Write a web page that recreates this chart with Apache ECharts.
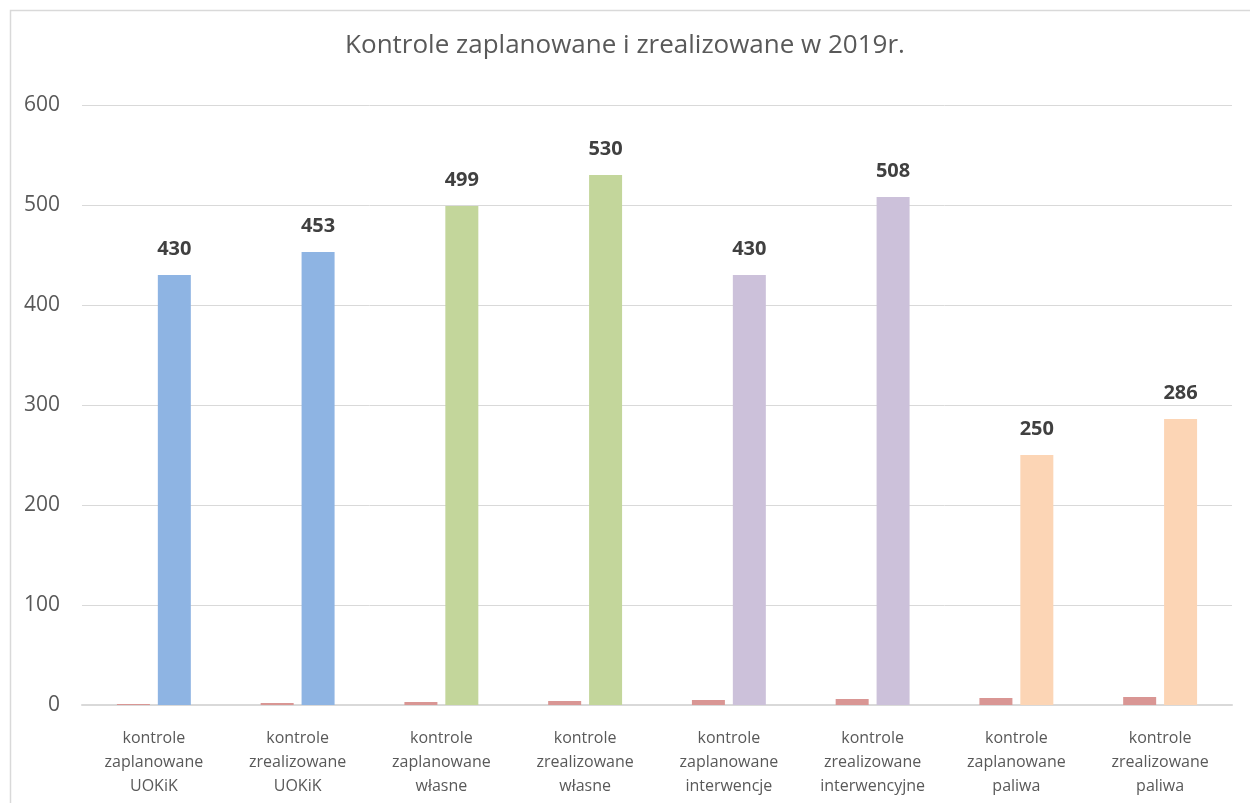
<!DOCTYPE html>
<html>
<head>
<meta charset="utf-8">
<script src="https://cdn.jsdelivr.net/npm/echarts@6/dist/echarts.min.js"></script>
<style>
html, body { margin: 0; padding: 0; background: #fff; }
#chart { width: 1250px; height: 803px; }
</style>
</head>
<body>
<div id="chart"></div>
<script>
// kategorie i wartosci
var categories = [
    'kontrole\nzaplanowane\nUOKiK',
    'kontrole\nzrealizowane\nUOKiK',
    'kontrole\nzaplanowane\nwłasne',
    'kontrole\nzrealizowane\nwłasne',
    'kontrole\nzaplanowane\ninterwencje',
    'kontrole\nzrealizowane\ninterwencyjne',
    'kontrole\nzaplanowane\npaliwa',
    'kontrole\nzrealizowane\npaliwa'
];
var indexValues = [1, 2, 3, 4, 5, 6, 7, 8];
var countValues = [430, 453, 499, 530, 430, 508, 250, 286];
var barColors = ['#8EB4E3', '#8EB4E3', '#C3D69B', '#C3D69B', '#CCC1DA', '#CCC1DA', '#FCD5B5', '#FCD5B5'];
var yTicks = [0, 100, 200, 300, 400, 500, 600];

var chart = echarts.init(document.getElementById('chart'));

var mainData = []
for (var i = 0; i < countValues.length; i++) {
    mainData.push({ value: countValues[i], itemStyle: { color: barColors[i] } })
}

var option = {
    backgroundColor: '#fff',
    animation: false,
    title: {
        text: 'Kontrole zaplanowane i zrealizowane w 2019r.',
        left: 'center',
        top: 28,
        textStyle: {
            fontFamily: 'Open Sans',
            fontSize: 26,
            fontWeight: 'normal',
            color: '#595959'
        }
    },
    graphic: [
        {
            type: 'rect',
            shape: { x: 10.5, y: 10.5, width: 1260, height: 820 },
            style: { fill: 'none', stroke: '#d9d9d9', lineWidth: 1.5 },
            silent: true
        }
    ],
    grid: {
        left: 82,
        right: 18,
        top: 105,
        bottom: 98
    },
    xAxis: {
        type: 'category',
        data: categories,
        axisLine: { lineStyle: { color: '#d9d9d9', width: 2 } },
        axisTick: { show: false },
        axisLabel: {
            margin: 21,
            interval: 0,
            fontFamily: 'Open Sans',
            fontSize: 16,
            lineHeight: 24,
            color: '#595959'
        }
    },
    yAxis: {
        type: 'value',
        min: yTicks[0],
        max: yTicks[yTicks.length - 1],
        interval: 100,
        axisLine: { show: false },
        axisTick: { show: false },
        axisLabel: {
            margin: 22,
            fontFamily: 'Open Sans',
            fontSize: 21,
            color: '#595959'
        },
        splitLine: { lineStyle: { color: '#d9d9d9', width: 1 } }
    },
    series: [
        {
            name: 'Lp.',
            type: 'bar',
            data: indexValues,
            barWidth: 33,
            barGap: '24%',
            itemStyle: { color: '#D99694' }
        },
        {
            name: 'Liczba kontroli',
            type: 'bar',
            data: mainData,
            barWidth: 33,
            label: {
                show: true,
                position: 'top',
                distance: 16,
                fontFamily: 'Open Sans',
                fontSize: 20,
                fontWeight: 'bold',
                color: '#404040'
            }
        }
    ]
};
chart.setOption(option);
</script>
</body>
</html>
